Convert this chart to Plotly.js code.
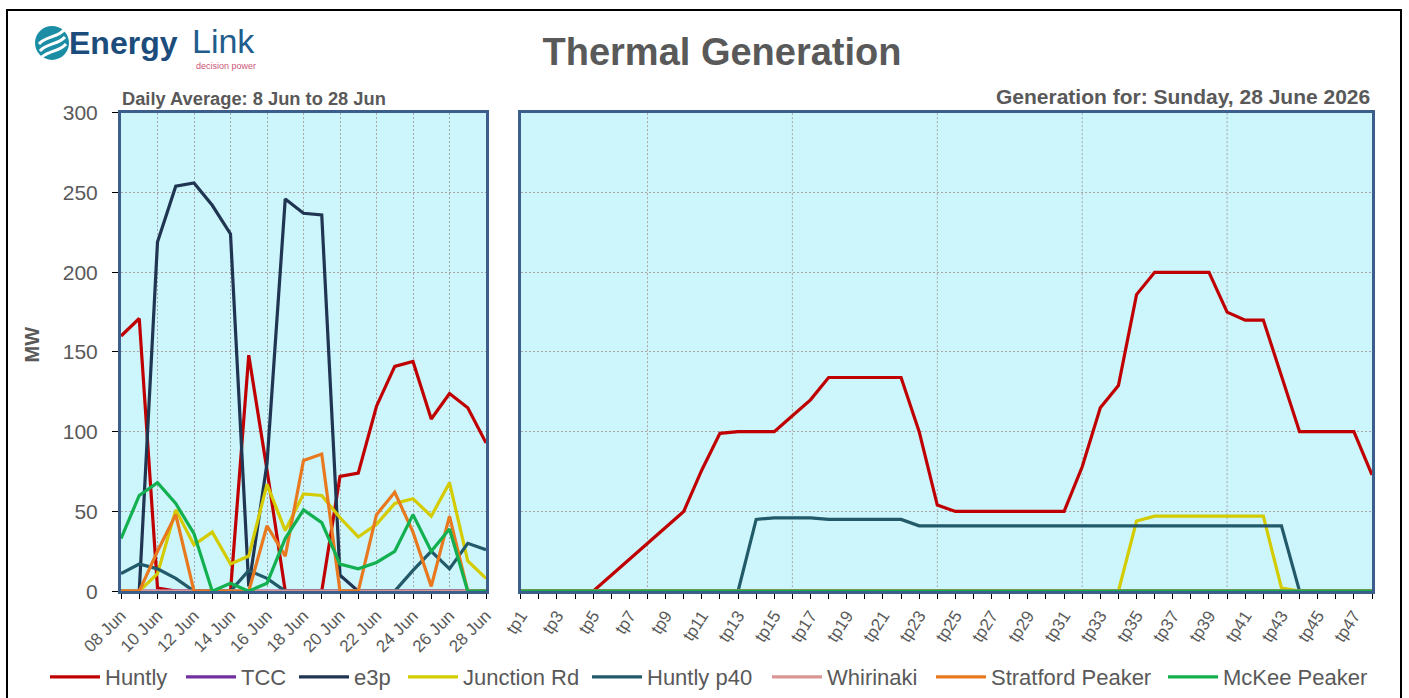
<!DOCTYPE html>
<html><head><meta charset="utf-8">
<script src="https://cdn.plot.ly/plotly-3.0.1.min.js"></script>
<style>html,body{margin:0;padding:0;background:#fff;}#chart{width:1409px;height:698px;}</style>
</head><body><div id="chart"></div>
<script>
// ---------- data ----------
const seriesNames = ['Huntly','TCC','e3p','Junction Rd','Huntly p40','Whirinaki','Stratford Peaker','McKee Peaker'];
const seriesColors = ['#c00000','#7030a0','#1f3552','#d4cc00','#235a69','#d99694','#e8791f','#13b04f'];

const dayLabels = ['08 Jun','09 Jun','10 Jun','11 Jun','12 Jun','13 Jun','14 Jun','15 Jun','16 Jun','17 Jun','18 Jun',
                   '19 Jun','20 Jun','21 Jun','22 Jun','23 Jun','24 Jun','25 Jun','26 Jun','27 Jun','28 Jun'];

const dailyHuntly     = [160,171,2,0,0,0,0,148,76,0,0,0,72,74,116,141,144,108,124,115,93];
const dailyTCC        = [0,0,0,0,0,0,0,0,0,0,0,0,0,0,0,0,0,0,0,0,0];
const dailyE3p        = [0,0,219,254,256,242,224,3,80,246,237,236,10,0,0,0,0,0,0,0,0];
const dailyJunctionRd = [0,0,11,51,29,37,17,22,67,38,61,60,46,34,42,55,58,47,68,19,8];
const dailyHuntlyP40  = [11,17,14,8,0,0,0,13,8,0,0,0,0,0,0,0,13,25,14,30,26];
const dailyWhirinaki  = [0,0,0,0,0,0,0,0,0,0,0,0,0,0,0,0,0,0,0,0,0];
const dailyStratford  = [0,0,25,48,0,0,0,0,41,22,82,86,0,0,48,62,37,3,47,0,0];
const dailyMcKee      = [33,60,68,55,36,0,5,0,5,33,51,43,17,14,18,25,48,25,39,0,0];

const tpLabels = ['tp1','tp2','tp3','tp4','tp5','tp6','tp7','tp8','tp9','tp10','tp11','tp12','tp13','tp14','tp15','tp16',
                  'tp17','tp18','tp19','tp20','tp21','tp22','tp23','tp24','tp25','tp26','tp27','tp28','tp29','tp30','tp31','tp32',
                  'tp33','tp34','tp35','tp36','tp37','tp38','tp39','tp40','tp41','tp42','tp43','tp44','tp45','tp46','tp47','tp48'];

const hhHuntly     = [0,0,0,0,0,10,20,30,40,50,76,99,100,100,100,110,120,134,134,134,134,134,100,54,
                      50,50,50,50,50,50,50,78,115,129,186,200,200,200,200,175,170,170,135,100,100,100,100,73];
const hhTCC        = [0,0,0,0,0,0,0,0,0,0,0,0,0,0,0,0,0,0,0,0,0,0,0,0,0,0,0,0,0,0,0,0,0,0,0,0,0,0,0,0,0,0,0,0,0,0,0,0];
const hhE3p        = [0,0,0,0,0,0,0,0,0,0,0,0,0,0,0,0,0,0,0,0,0,0,0,0,0,0,0,0,0,0,0,0,0,0,0,0,0,0,0,0,0,0,0,0,0,0,0,0];
const hhJunctionRd = [0,0,0,0,0,0,0,0,0,0,0,0,0,0,0,0,0,0,0,0,0,0,0,0,0,0,0,0,0,0,0,0,0,0,44,47,47,47,47,47,47,47,2,0,0,0,0,0];
const hhHuntlyP40  = [0,0,0,0,0,0,0,0,0,0,0,0,0,45,46,46,46,45,45,45,45,45,41,41,
                      41,41,41,41,41,41,41,41,41,41,41,41,41,41,41,41,41,41,41,0,0,0,0,0];
const hhWhirinaki  = [0,0,0,0,0,0,0,0,0,0,0,0,0,0,0,0,0,0,0,0,0,0,0,0,0,0,0,0,0,0,0,0,0,0,0,0,0,0,0,0,0,0,0,0,0,0,0,0];
const hhStratford  = [0,0,0,0,0,0,0,0,0,0,0,0,0,0,0,0,0,0,0,0,0,0,0,0,0,0,0,0,0,0,0,0,0,0,0,0,0,0,0,0,0,0,0,0,0,0,0,0];
const hhMcKee      = [0,0,0,0,0,0,0,0,0,0,0,0,0,0,0,0,0,0,0,0,0,0,0,0,0,0,0,0,0,0,0,0,0,0,0,0,0,0,0,0,0,0,0,0,0,0,0,0];

const yTicks = [0,50,100,150,200,250,300];

// ---------- build ----------
const W = 1409, H = 698;
const px = v => v / W, py = v => 1 - v / H;
const FONT = 'Liberation Sans, Arial, sans-serif';
const GREY = '#595959';
const FRAME = '#3b5e8c';
const GRID = '#a6a6a6';
const GRIDDASH = '2px,2px';

const dailySeries = [dailyHuntly, dailyTCC, dailyE3p, dailyJunctionRd, dailyHuntlyP40, dailyWhirinaki, dailyStratford, dailyMcKee];
const hhSeries = [hhHuntly, hhTCC, hhE3p, hhJunctionRd, hhHuntlyP40, hhWhirinaki, hhStratford, hhMcKee];

const dayIdx = dayLabels.map((_, i) => i);
const tpIdx = tpLabels.map((_, i) => i);

// one legend box per entry so the entries sit where the reference has them
const legendX = [45, 181, 294, 403, 587, 767, 931, 1163];
const legendId = s => s === 0 ? 'legend' : 'legend' + (s + 1);

const traces = [];
seriesNames.forEach((name, s) => {
  traces.push({type:'scatter', mode:'lines', name, x: dayIdx, y: dailySeries[s], xaxis:'x', yaxis:'y',
    line:{color: seriesColors[s], width:3.2}, legendgroup:name, legend: legendId(s), hoverinfo:'name+y'});
});
seriesNames.forEach((name, s) => {
  traces.push({type:'scatter', mode:'lines', name, x: tpIdx, y: hhSeries[s], xaxis:'x2', yaxis:'y2',
    line:{color: seriesColors[s], width:3.2}, legendgroup:name, legend: legendId(s), showlegend:false, hoverinfo:'name+y'});
});

const dayTickVals = dayIdx.filter(i => i % 2 === 0);
const tpTickVals = tpIdx.filter(i => i % 2 === 0);
const tpGrid = tpIdx.filter(i => (tpIdx.length - 1 - i) % 8 === 0 && i > 0 && i < tpIdx.length - 1);

const yDom = [py(592), py(113)];
const commonX = {
  ticks:'outside', ticklen:5, tickwidth:1, tickcolor:'#000',
  showline:true, mirror:true, linecolor:FRAME, linewidth:3, zeroline:false,
  minor:{dtick:1, tick0:0, ticks:'outside', ticklen:5, tickwidth:1, tickcolor:'#000', showgrid:false},
  gridcolor:GRID, griddash:GRIDDASH, gridwidth:1, fixedrange:true
};

const shapes = [
  {type:'rect', xref:'paper', yref:'paper', x0:px(7), x1:px(1401), y0:-0.05, y1:py(10), line:{color:'#000', width:2}},
  {type:'circle', xref:'paper', yref:'paper', x0:px(35), x1:px(69), y0:py(60), y1:py(26), fillcolor:'#1b8ea6', line:{width:0}},
];
// logo swooshes
[[40,51,47,43,58,45,65,37],[39,44,46,36,57,38,64,30],[42,57,50,50,59,52,66,44]].forEach(c => {
  shapes.push({type:'path', xref:'paper', yref:'paper',
    path:`M${px(c[0])},${py(c[1])} C${px(c[2])},${py(c[3])} ${px(c[4])},${py(c[5])} ${px(c[6])},${py(c[7])}`,
    line:{color:'#ffffff', width:3}});
});
tpGrid.forEach(i => shapes.push({type:'line', xref:'x2', yref:'y2 domain', x0:i, x1:i, y0:0, y1:1,
  line:{color:GRID, width:1, dash:GRIDDASH}, layer:'below'}));

const layout = {
  width:W, height:H, margin:{l:0,r:0,t:0,b:0},
  paper_bgcolor:'#ffffff', plot_bgcolor:'#ccf5fc',
  font:{family:FONT, color:GREY},
  title:{text:'<b>Thermal Generation</b>', x:px(722), xanchor:'center', xref:'paper', y:py(52), yanchor:'middle', yref:'container',
    font:{family:FONT, size:38, color:GREY}},
  showlegend:true,
  xaxis:Object.assign({}, commonX, {domain:[px(121), px(486)], range:[0, dayLabels.length-1], anchor:'y',
    tickmode:'array', tickvals:dayTickVals, ticktext:dayTickVals.map(i => dayLabels[i]), tickangle:-45,
    tickfont:{family:FONT, size:17, color:GREY}, showgrid:true}),
  xaxis2:Object.assign({}, commonX, {domain:[px(520.7), px(1372)], range:[0, tpLabels.length-1], anchor:'y2',
    tickmode:'array', tickvals:tpTickVals, ticktext:tpTickVals.map(i => tpLabels[i]), tickangle:-57,
    tickfont:{family:FONT, size:17, color:GREY}, showgrid:false}),
  yaxis:{domain:yDom, range:[0,300], anchor:'x', tickmode:'array', tickvals:yTicks, ticks:'outside', ticklen:6, tickcolor:'#000',
    tickfont:{family:FONT, size:21, color:GREY}, ticklabelstandoff:10,
    showgrid:true, gridcolor:GRID, griddash:GRIDDASH, gridwidth:1,
    showline:true, mirror:true, linecolor:FRAME, linewidth:3, zeroline:false, fixedrange:true},
  yaxis2:{domain:yDom, range:[0,300], anchor:'x2', tickmode:'array', tickvals:yTicks, ticks:'', showticklabels:false,
    showgrid:true, gridcolor:GRID, griddash:GRIDDASH, gridwidth:1,
    showline:true, mirror:true, linecolor:FRAME, linewidth:3, zeroline:false, fixedrange:true},
  shapes,
  annotations:[
    {text:'<b>Daily Average: 8 Jun to 28 Jun</b>', xref:'paper', yref:'paper', x:px(120), xanchor:'left', y:py(99), yanchor:'middle',
      showarrow:false, font:{family:FONT, size:18.3, color:GREY}},
    {text:'<b>Generation for: Sunday, 28 June 2026</b>', xref:'paper', yref:'paper', x:px(1372), xanchor:'right', y:py(97), yanchor:'middle',
      showarrow:false, font:{family:FONT, size:21, color:GREY}},
    {text:'<b>MW</b>', xref:'paper', yref:'paper', x:px(32), xanchor:'center', y:py(345), yanchor:'middle', textangle:-90,
      showarrow:false, font:{family:FONT, size:20, color:GREY}},
    {text:'<b>Energy</b>', xref:'paper', yref:'paper', x:px(67), xanchor:'left', y:py(43), yanchor:'middle',
      showarrow:false, font:{family:FONT, size:32, color:'#1b4c7c'}},
    {text:'Link', xref:'paper', yref:'paper', x:px(190), xanchor:'left', y:py(41), yanchor:'middle',
      showarrow:false, font:{family:FONT, size:34, color:'#1f5d8c'}},
    {text:'decision power', xref:'paper', yref:'paper', x:px(258), xanchor:'right', y:py(66), yanchor:'middle',
      showarrow:false, font:{family:FONT, size:9, color:'#cc5577'}}
  ]
};
seriesNames.forEach((name, s) => {
  layout[legendId(s)] = {orientation:'h', x:px(legendX[s]), xanchor:'left', y:py(678), yanchor:'middle',
    font:{family:FONT, size:22, color:GREY}, itemwidth:50, bgcolor:'rgba(0,0,0,0)', borderwidth:0};
});

Plotly.newPlot('chart', traces, layout, {displayModeBar:false, staticPlot:true});
</script></body></html>
